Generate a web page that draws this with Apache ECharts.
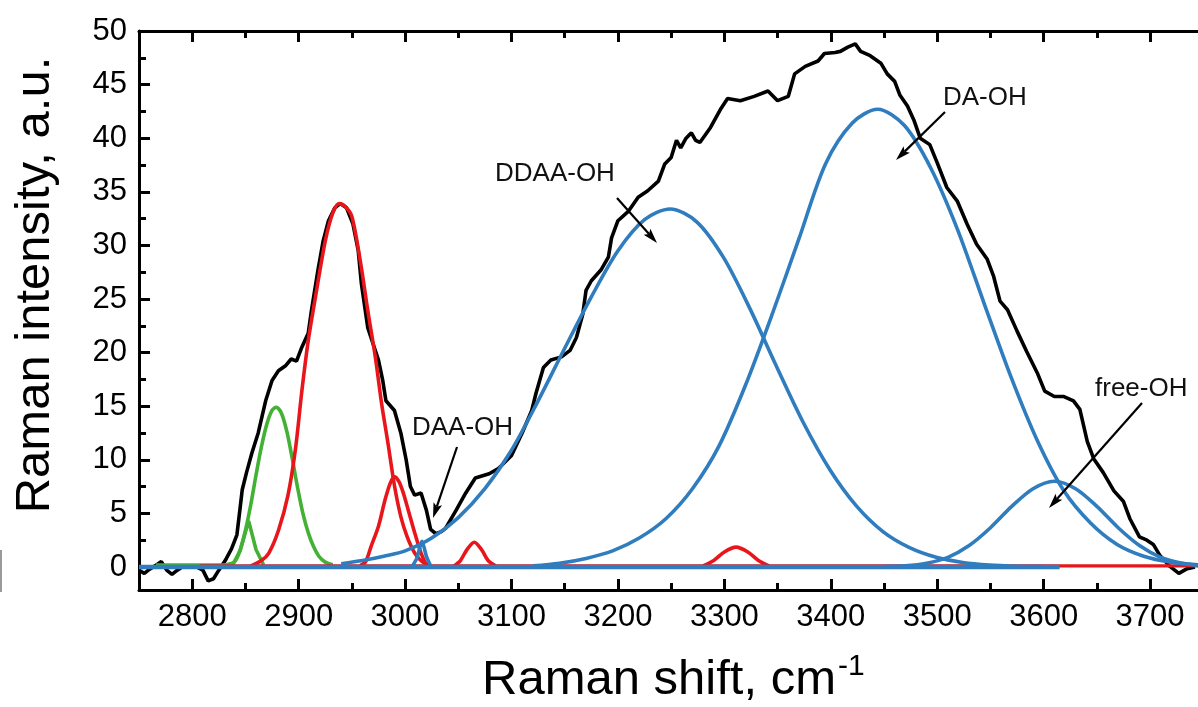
<!DOCTYPE html>
<html>
<head>
<meta charset="utf-8">
<script src="https://cdn.jsdelivr.net/npm/echarts@6/dist/echarts.min.js"></script>
<style>
html,body{margin:0;padding:0;background:#fff;}
#chart{width:1198px;height:707px;}
</style>
</head>
<body>
<div id="chart"></div>
<script>
// ---------- data ----------
const xMajorTicks = [2800, 2900, 3000, 3100, 3200, 3300, 3400, 3500, 3600, 3700];
const xMinorTicks = [2850, 2950, 3050, 3150, 3250, 3350, 3450, 3550, 3650];
const yMajorTicks = [0, 5, 10, 15, 20, 25, 30, 35, 40, 45, 50];
const yMinorTicks = [2.5, 7.5, 12.5, 17.5, 22.5, 27.5, 32.5, 37.5, 42.5, 47.5];

const spectrum = [
  [2750,-0.3],[2755,-0.6],[2760,-0.2],[2765,0.1],[2771,0.5],[2776,-0.3],[2781,-0.7],[2786,-0.3],
  [2792,0.1],[2798,0.05],[2804,0],[2810,-0.3],[2815,-1.3],[2820,-1.1],[2825,-0.3],[2831,0.6],
  [2837,1.7],[2842,3.0],[2845,5.5],[2847,7.2],[2851,8.8],[2856,10.6],[2862,12.5],[2869,15.5],
  [2875,17.4],[2881,18.3],[2888,18.8],[2893,19.4],[2898,19.2],[2903,20.5],[2909,21.8],[2912,23.9],
  [2918,27.6],[2923,30.4],[2928,32.3],[2934,33.5],[2939,33.9],[2945,33.5],[2951,32.0],[2956,29.5],
  [2959,26.4],[2965,22.3],[2970,20.8],[2975,19.3],[2979,17.4],[2982,15.5],[2990,14.6],[2996,12.5],
  [3001,10.0],[3005,7.5],[3009,6.7],[3015,6.9],[3020,5.3],[3024,3.5],[3029,3.1],[3034,3.3],
  [3038,3.6],[3048,5.3],[3057,6.9],[3066,8.3],[3079,8.7],[3088,9.2],[3100,10.4],[3110,12.5],
  [3119,14.6],[3123,16.2],[3130,18.6],[3137,19.3],[3147,19.6],[3155,20.2],[3161,21.4],[3167,23.6],
  [3170,25.8],[3175,26.7],[3184,27.7],[3191,28.9],[3194,30.7],[3200,32.3],[3210,33.2],[3219,34.5],
  [3228,35.1],[3238,36.0],[3244,37.6],[3250,38.2],[3255,39.8],[3259,39.1],[3264,40.0],[3269,40.5],
  [3273,39.8],[3277,39.6],[3287,41.0],[3297,42.8],[3303,43.7],[3315,43.5],[3328,43.9],[3341,44.4],
  [3350,43.5],[3360,43.9],[3366,46.0],[3376,46.7],[3388,47.2],[3394,47.9],[3404,48.0],[3409,48.1],
  [3416,48.5],[3423,48.8],[3428,48.1],[3437,47.7],[3447,47.0],[3453,46.0],[3460,45.3],[3465,44.0],
  [3472,43.0],[3478,41.7],[3484,40.0],[3493,39.4],[3500,37.7],[3509,35.4],[3519,34.1],[3528,32.0],
  [3537,30.1],[3547,28.7],[3553,27.1],[3559,24.8],[3566,24.0],[3575,22.0],[3584,20.1],[3594,18.1],
  [3601,16.4],[3610,15.9],[3619,15.9],[3628,15.5],[3634,14.7],[3641,11.7],[3647,10.1],[3656,8.8],
  [3666,7.1],[3675,6.1],[3681,4.5],[3690,2.8],[3697,2.5],[3703,2.1],[3709,1.1],[3718,0.1],
  [3727,-0.6],[3734,-0.2],[3742,0]
];

// green components
const greenBase = [[2766,0.2],[2840,0.2]];
const green1 = [[2838,0.2],[2845,1.5],[2853,4.3],[2860,1.6],[2867,0.2]];
const green2 = [[2832,0.2],[2840,0.5],[2845,1.6],[2850,3.4],[2855,5.8],[2860,8.6],[2865,11.2],[2870,13.3],
  [2875,14.6],[2879,14.9],[2884,14.3],[2889,12.6],[2894,10.1],[2899,7.4],[2904,5.0],[2909,3.2],
  [2914,1.9],[2919,1.0],[2925,0.45],[2932,0.2]];

// red components
const redBase = [[2807,0.1],[3745,0.1]];
const red1 = [[2855,0.1],[2865,0.6],[2872,1.3],[2881,3.4],[2890,6.7],[2897,11.0],[2903,16.4],[2909,21.1],
  [2916,25.3],[2925,30.4],[2932,33.0],[2938,33.9],[2944,33.6],[2950,32.7],[2958,28.5],[2965,23.9],
  [2972,19.6],[2978,15.2],[2984,11.5],[2990,7.6],[2996,4.7],[3002,2.8],[3009,1.3],[3016,0.5],[3024,0.15]];
const red2 = [[2958,0.15],[2963,0.5],[2968,1.9],[2975,3.8],[2981,6.2],[2986,7.8],[2990,8.4],[2994,8.0],
  [2998,7.0],[3003,5.3],[3009,3.2],[3015,1.3],[3020,0.2]];
const red3 = [[3046,0.1],[3052,0.6],[3058,1.6],[3065,2.3],[3072,1.6],[3078,0.6],[3085,0.1]];
const red4 = [[3280,0.1],[3290,0.6],[3300,1.4],[3311,1.85],[3322,1.4],[3332,0.6],[3342,0.1]];

// blue components
const blueBase = [[2750,0],[3615,0]];
const blue1 = [[3007,0.1],[3011,0.8],[3016,2.4],[3020,1.0],[3024,0.1]];
const blueDDAA = [[2940,0.3],[2960,0.6],[2980,1.0],[3000,1.5],[3025,2.7],[3050,4.6],[3075,7.3],[3100,10.9],
  [3125,15.5],[3150,20.4],[3175,25.2],[3200,29.5],[3225,32.4],[3249,33.4],[3274,32.2],[3299,28.9],
  [3324,24.1],[3349,18.7],[3374,13.5],[3399,9.1],[3424,5.7],[3449,3.3],[3474,1.8],[3499,0.9],
  [3524,0.42],[3549,0.18],[3575,0.07],[3600,0.03]];
const blueDA = [[3120,0.1],[3145,0.35],[3170,0.8],[3195,1.5],[3220,2.7],[3245,4.5],[3270,7.3],[3295,11.3],
  [3320,17.0],[3345,23.6],[3370,30.6],[3395,37.6],[3420,41.4],[3444,42.7],[3469,41.2],[3494,37.2],
  [3519,31.5],[3544,24.6],[3569,17.8],[3594,11.8],[3619,7.1],[3644,4.1],[3669,2.1],[3694,1.0],
  [3719,0.45],[3745,0.2]];
const blueFree = [[3450,0.03],[3470,0.1],[3490,0.35],[3510,0.9],[3530,2.0],[3550,3.66],[3570,5.65],[3590,7.3],
  [3610,8.0],[3630,7.3],[3650,5.65],[3670,3.66],[3690,2.0],[3710,0.9],[3730,0.35],[3745,0.15]];

// annotations
const labels = ['DAA-OH', 'DDAA-OH', 'DA-OH', 'free-OH'];

// ---------- chart ----------
const FONT = '"Liberation Sans", Arial, Helvetica, sans-serif';
const BLACK = '#000000', RED = '#e8161b', GREEN = '#43b134', BLUE = '#2f7dbf';
const LW = 3.6;
const chart = echarts.init(document.getElementById('chart'), null, {renderer: 'canvas'});

function line(data, color, width, smooth) {
  return {type: 'line', data: data, showSymbol: false, symbol: 'none', smooth: smooth,
    lineStyle: {color: color, width: width}, itemStyle: {color: color}, silent: true,
    animation: false, emphasis: {disabled: true}, z: 2};
}

const axisCommon = {type: 'value', min: 2750, max: 3745, splitLine: {show: false}, gridIndex: 0};
const plainNum = function (v) { return String(v); };

function arrow(x1, y1, x2, y2) {
  const dx = x2 - x1, dy = y2 - y1, len = Math.sqrt(dx * dx + dy * dy);
  const ux = dx / len, uy = dy / len, L = 15, W = 4.5;
  const bx = x2 - ux * L, by = y2 - uy * L;
  return [
    {type: 'line', shape: {x1: x1, y1: y1, x2: bx + ux * 3, y2: by + uy * 3},
      style: {stroke: '#000', lineWidth: 2.2}, z: 10, silent: true},
    {type: 'polygon', shape: {points: [[x2, y2], [bx - uy * W, by + ux * W], [bx + ux * 3, by + uy * 3], [bx + uy * W, by - ux * W]]},
      style: {fill: '#000'}, z: 10, silent: true}
  ];
}

function annText(text, x, y) {
  return {type: 'text', x: x, y: y, z: 10, silent: true,
    style: {text: text, font: '26px ' + FONT, fill: '#111', textAlign: 'left', textVerticalAlign: 'middle'}};
}

const graphics = [
  annText(labels[0], 412, 428),
  annText(labels[1], 495, 174),
  annText(labels[2], 943, 98),
  annText(labels[3], 1095, 389),
  ...arrow(457, 447, 433, 518),
  ...arrow(617, 198, 657, 243),
  ...arrow(945, 112, 896, 160),
  ...arrow(1142, 403, 1049, 508),
  {type: 'text', x: 35, y: 285, rotation: Math.PI / 2, z: 10, silent: true,
    style: {text: 'Raman intensity, a.u.', font: '49px ' + FONT, fill: '#000', textAlign: 'center', textVerticalAlign: 'middle'}},
  {type: 'text', x: 482, y: 680, z: 10, silent: true,
    style: {text: 'Raman shift, cm', font: '49px ' + FONT, fill: '#000', textAlign: 'left', textVerticalAlign: 'middle'}},
  {type: 'text', x: 838, y: 667, z: 10, silent: true,
    style: {text: '-1', font: '30px ' + FONT, fill: '#000', textAlign: 'left', textVerticalAlign: 'middle'}},
  {type: 'rect', shape: {x: 0, y: 550, width: 2, height: 42}, style: {fill: '#9a9a9a'}, silent: true}
];

const option = {
  backgroundColor: '#ffffff',
  animation: false,
  grid: {left: 139, top: 31, right: 0, bottom: 117, containLabel: false},
  xAxis: [
    Object.assign({}, axisCommon, {position: 'bottom',
      axisLine: {show: true, onZero: false, lineStyle: {color: '#000', width: 3}},
      axisTick: {show: true, inside: true, length: 11, customValues: xMajorTicks, lineStyle: {color: '#000', width: 3}},
      axisLabel: {show: true, customValues: xMajorTicks, formatter: plainNum, fontSize: 31, fontFamily: FONT, color: '#000', margin: 12}}),
    Object.assign({}, axisCommon, {position: 'bottom',
      axisLine: {show: false, onZero: false},
      axisTick: {show: true, inside: true, length: 7, customValues: xMinorTicks, lineStyle: {color: '#000', width: 3}},
      axisLabel: {show: false}}),
    Object.assign({}, axisCommon, {position: 'top',
      axisLine: {show: true, onZero: false, lineStyle: {color: '#000', width: 3}},
      axisTick: {show: true, inside: true, length: 11, customValues: xMajorTicks, lineStyle: {color: '#000', width: 3}},
      axisLabel: {show: false}}),
    Object.assign({}, axisCommon, {position: 'top',
      axisLine: {show: false, onZero: false},
      axisTick: {show: true, inside: true, length: 7, customValues: xMinorTicks, lineStyle: {color: '#000', width: 3}},
      axisLabel: {show: false}})
  ],
  yAxis: [
    {type: 'value', min: -2.15, max: 50, position: 'left', splitLine: {show: false},
      axisLine: {show: true, onZero: false, lineStyle: {color: '#000', width: 3}},
      axisTick: {show: true, inside: true, length: 11, customValues: yMajorTicks, lineStyle: {color: '#000', width: 3}},
      axisLabel: {show: true, customValues: yMajorTicks, formatter: plainNum, fontSize: 31, fontFamily: FONT, color: '#000', margin: 12}},
    {type: 'value', min: -2.15, max: 50, position: 'left', splitLine: {show: false},
      axisLine: {show: false, onZero: false},
      axisTick: {show: true, inside: true, length: 7, customValues: yMinorTicks, lineStyle: {color: '#000', width: 3}},
      axisLabel: {show: false}}
  ],
  series: [
    line(spectrum, BLACK, LW, false),
    line(greenBase, GREEN, 3, false),
    line(green1, GREEN, LW, false),
    line(green2, GREEN, LW, 0.3),
    line(redBase, RED, 3.2, false),
    line(red1, RED, LW, 0.3),
    line(red2, RED, LW, 0.3),
    line(red3, RED, LW, 0.3),
    line(red4, RED, LW, 0.3),
    line(blueBase, BLUE, 4.5, false),
    line(blue1, BLUE, LW, 0.2),
    line(blueDDAA, BLUE, LW, 0.3),
    line(blueDA, BLUE, LW, 0.3),
    line(blueFree, BLUE, LW, 0.3)
  ],
  graphic: graphics
};
chart.setOption(option);
</script>
</body>
</html>
